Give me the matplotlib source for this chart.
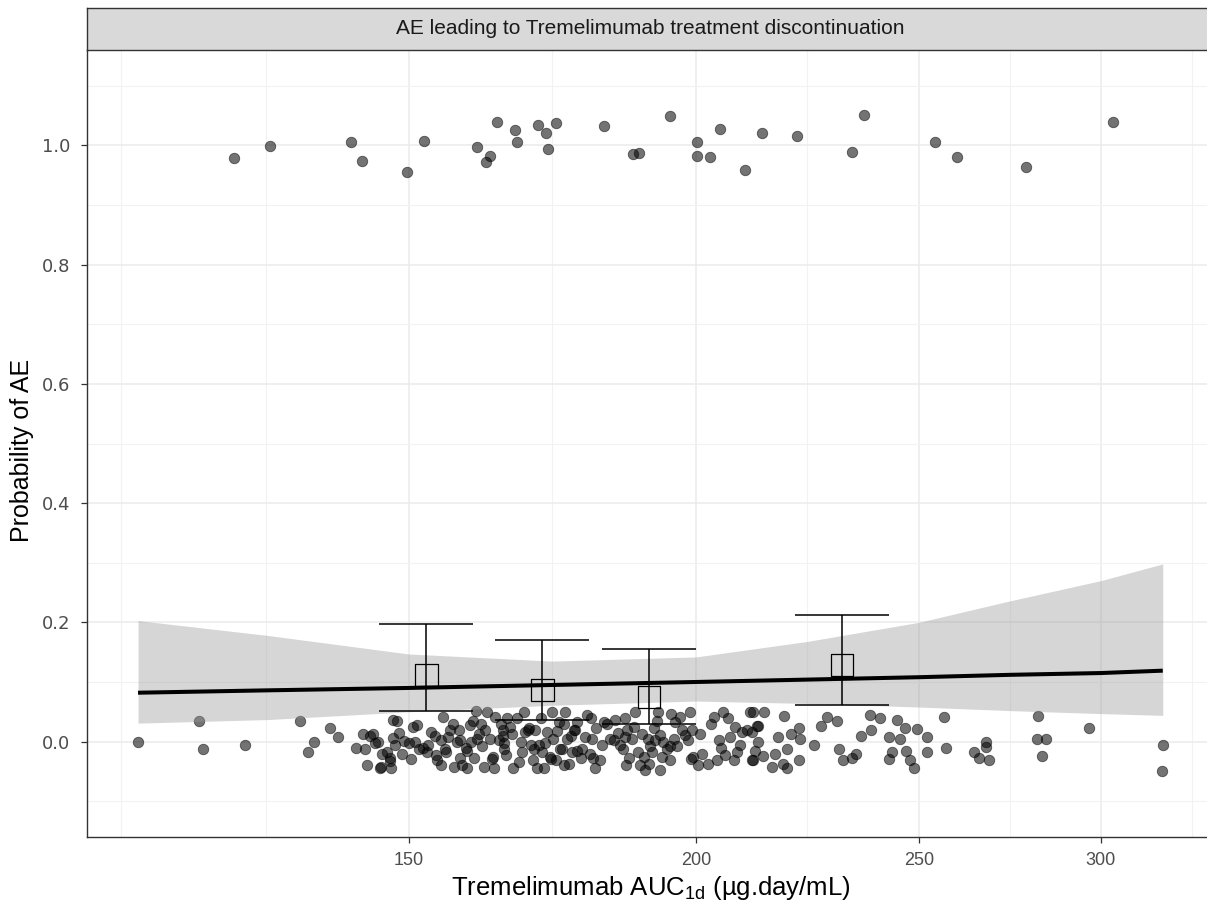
import matplotlib
matplotlib.use("Agg")
import matplotlib.pyplot as plt
from matplotlib.ticker import NullFormatter

plt.rcParams['font.family'] = ['Liberation Sans', 'DejaVu Sans']

# ---- observed data: AUC (ug.day/mL) and jittered response -------------
# patients with the adverse event (response = 1, jittered)
event_auc = [125.9, 130.6, 141.6, 143.1, 149.8, 152.3, 160.6, 162.8, 162.1, 163.9,
             166.9, 167.2, 170.7, 172.2, 173.8, 172.5, 182.4, 187.8, 189.0, 194.9,
             200.3, 200.2, 202.9, 204.9, 210.0, 213.6, 221.3, 233.9, 236.7, 254.0,
             259.7, 278.3, 303.6]
event_y = [0.979, 0.999, 1.006, 0.974, 0.956, 1.008, 0.998, 0.982, 0.972, 1.039,
           1.026, 1.006, 1.034, 1.020, 1.037, 0.994, 1.032, 0.986, 0.987, 1.049,
           1.005, 0.983, 0.980, 1.027, 0.958, 1.021, 1.015, 0.989, 1.051, 1.006,
           0.980, 0.963, 1.040]

# patients without the adverse event (response = 0, jittered)
none_auc = [
    114.4, 121.6, 122.1, 127.3, 134.5, 136.4, 135.6, 138.7, 139.8, 143.3,
    144.3, 142.3, 143.6, 145.1, 143.9, 145.8,
    144.8, 145.4, 145.9, 147.4, 147.2, 147.7, 148.2, 147.7, 147.9, 146.8,
    149.3, 150.0, 150.7, 151.6, 152.2, 152.8, 153.4, 154.4, 154.1, 155.3,
    154.9, 155.5, 155.8, 156.4, 157.4, 156.9, 157.7, 158.0, 158.3, 159.1,
    159.5, 159.6, 160.1, 160.4, 160.7, 161.2, 161.7, 162.3, 162.7, 163.4,
    163.6, 164.2, 164.9, 165.0, 165.3, 165.6, 166.6, 167.2, 167.8, 168.1,
    168.3, 168.6, 169.5, 169.9, 170.3, 170.6, 171.5, 171.7, 172.3, 173.2,
    173.4, 173.8, 174.3, 174.6, 175.2, 175.5, 175.8,
    164.9, 165.0, 147.3, 149.0, 151.0, 156.0, 158.8, 161.0, 163.0, 166.0,
    169.0, 171.0, 172.8,
    175.2, 174.9, 176.1, 176.7, 177.0, 177.6, 178.2, 178.9, 179.3, 180.1,
    180.2, 180.5, 180.8, 181.6, 182.4, 183.6, 184.2, 184.5, 185.4, 186.0,
    186.3, 186.7, 187.0, 187.6, 188.2, 188.7, 189.2, 190.1, 190.6, 190.9,
    191.4, 191.7, 192.5, 192.9, 193.0, 193.6, 194.3, 194.8, 195.1, 195.6,
    195.9, 196.9, 197.9, 198.5, 198.9, 199.2, 199.5, 200.9, 201.2, 202.5,
    203.6, 204.3, 204.6, 205.6, 206.0, 207.0, 207.7, 208.0, 208.4, 209.4,
    210.5, 211.2, 211.5, 212.2, 212.6,
    177.2, 177.5, 186.2, 189.9, 192.0, 194.8, 199.0,
    211.7, 214.1, 211.5, 212.9, 212.9, 211.8, 213.9, 215.8, 217.2, 218.3,
    218.5, 219.1, 219.1, 221.8, 222.0, 221.8, 226.6, 228.0, 230.4, 230.9,
    231.7, 233.8, 234.8, 238.1, 238.3, 240.5, 242.7, 242.7, 244.7, 245.3,
    246.6, 246.8, 247.8, 248.8, 249.5, 252.0, 252.0, 256.4, 256.8, 264.2,
    265.6, 267.4, 267.4, 268.3, 281.7, 281.3, 283.9, 282.7, 296.5, 319.2,
    319.0,
    146.0, 148.5, 150.3, 151.2, 153.0, 154.0, 155.0, 156.8, 157.9, 159.0,
    160.0, 161.5, 162.0, 163.3, 164.5, 166.3, 167.5, 169.2, 170.0, 171.2,
    172.0, 173.0, 174.0, 176.4, 178.5, 179.8, 181.0, 182.0, 183.0, 185.0,
    186.5, 188.0, 189.5, 191.0, 192.3, 193.3, 196.3, 197.3, 200.5, 203.0,
    205.0, 206.5, 209.0, 216.5, 220.0, 225.0, 236.0, 243.5]
none_y = [
    0.000, 0.035, -0.013, -0.006, 0.034, 0.000, -0.018, 0.023, 0.008, 0.013,
    0.010, -0.010, -0.012, -0.002, -0.039, -0.044,
    0.012, -0.001, -0.042, -0.045, -0.027, 0.037, 0.034, 0.006, -0.006, -0.017,
    0.001, -0.003, 0.025, -0.012, -0.010, -0.017, 0.016, -0.031, -0.022, 0.041,
    0.002, -0.012, -0.017, 0.019, -0.001, -0.042, 0.019, -0.028, -0.040, -0.045,
    0.028, -0.001, -0.027, 0.052, 0.005, 0.030, -0.042, 0.050, 0.005, -0.044,
    0.041, 0.002, 0.019, -0.012, -0.023, 0.039, -0.044, 0.039, -0.001, -0.017,
    0.050, 0.016, -0.006, -0.031, 0.019, -0.045, -0.017, -0.045, 0.016, 0.050,
    0.005, -0.031, 0.033, -0.012, -0.040, 0.050, 0.005,
    0.010, -0.003, -0.032, -0.020, 0.000, 0.008, -0.010, 0.012, -0.030, 0.024,
    0.020, -0.005, -0.025,
    0.030, -0.012, -0.037, -0.017, 0.019, 0.033, -0.028, 0.008, 0.044, 0.039,
    0.005, -0.028, -0.045, -0.031, 0.033, 0.005, 0.002, 0.036, -0.006, -0.012,
    0.039, 0.019, -0.028, 0.005, 0.050, -0.017, -0.040, -0.048, 0.005, -0.037,
    -0.017, 0.022, 0.050, -0.047, 0.011, -0.001, -0.012, -0.031, 0.047, 0.005,
    0.033, 0.041, 0.011, 0.002, 0.050, 0.019, -0.026, 0.013, -0.020, -0.037,
    0.041, -0.031, 0.002, 0.050, -0.023, 0.008, -0.031, 0.025, -0.017, 0.016,
    0.019, 0.050, -0.031, -0.015, 0.027,
    0.020, -0.015, 0.008, -0.025, 0.002, -0.008, -0.030,
    0.049, 0.050, 0.016, 0.027, -0.001, -0.031, -0.024, -0.042, 0.008, -0.037,
    0.043, -0.012, -0.044, 0.022, 0.004, -0.031, 0.026, 0.041, 0.034, -0.012,
    -0.031, -0.028, -0.020, 0.044, 0.019, 0.040, 0.008, -0.030, 0.037, 0.005,
    0.022, -0.015, -0.031, -0.044, 0.021, 0.008, -0.017, 0.041, -0.010, -0.018,
    -0.028, -0.001, -0.009, -0.031, 0.043, 0.005, 0.004, -0.024, 0.023, -0.005,
    -0.050,
    -0.020, 0.015, -0.030, 0.028, -0.005, 0.010, -0.040, 0.030, 0.002, -0.015,
    0.035, -0.008, 0.020, -0.025, 0.030, 0.012, -0.035, 0.022, -0.012, 0.040,
    -0.002, -0.030, 0.018, 0.010, -0.012, -0.020, 0.022, -0.005, 0.030, 0.015,
    -0.040, 0.025, 0.012, -0.008, 0.035, -0.025, -0.008, 0.020, -0.040, 0.030,
    -0.010, 0.040, -0.005, -0.020, 0.012, -0.005, 0.010, -0.018]

# ---- logistic regression fit with 95% confidence band -----------------
fit_auc = [114.4, 130.3, 150.0, 173.2, 200.0, 223.6, 250.0, 273.9, 300.0, 319.2]
fit_p = [0.082, 0.086, 0.090, 0.095, 0.100, 0.104, 0.108, 0.112, 0.115, 0.119]
fit_lo = [0.031, 0.037, 0.050, 0.061, 0.068, 0.064, 0.058, 0.052, 0.047, 0.044]
fit_hi = [0.203, 0.178, 0.147, 0.135, 0.142, 0.168, 0.200, 0.236, 0.270, 0.298]

# ---- observed proportion by exposure quartile with 95% CI -------------
bin_auc = [152.7, 171.5, 190.8, 231.5]
bin_p = [0.112, 0.087, 0.075, 0.128]
bin_lo = [0.052, 0.037, 0.029, 0.061]
bin_hi = [0.198, 0.171, 0.155, 0.213]

x_major = [150, 200, 250, 300]
x_minor = [112.5, 130.0, 173.2, 223.6, 273.9, 328.6]
y_major = [0.0, 0.2, 0.4, 0.6, 0.8, 1.0]
y_minor = [-0.1, 0.1, 0.3, 0.5, 0.7, 0.9, 1.1]

W, H = 1207, 907
fig = plt.figure(figsize=(W / 100, H / 100), dpi=100)
ax = fig.add_axes([87 / W, (H - 837) / H, (1214 - 87) / W, (837 - 50) / H])

ax.set_xscale('log')
ax.set_xlim(108.7, 336.0)
ax.set_ylim(-0.16, 1.16)

ax.set_xticks(x_major)
ax.set_xticklabels([str(v) for v in x_major])
ax.set_xticks(x_minor, minor=True)
ax.xaxis.set_minor_formatter(NullFormatter())
ax.set_yticks(y_major)
ax.set_yticklabels([f"{v:.1f}" for v in y_major])
ax.set_yticks(y_minor, minor=True)

ax.grid(which='major', color='#ebebeb', linewidth=1.1, zorder=0)
ax.grid(which='minor', color='#f2f2f2', linewidth=0.8, zorder=0)
ax.set_axisbelow(True)

ax.tick_params(which='minor', length=0)
ax.tick_params(axis='x', which='major', length=4, width=0.9, color='#333333',
               labelcolor='#4d4d4d', labelsize=13, pad=7)
ax.tick_params(axis='y', which='major', length=4, width=0.9, color='#333333',
               labelcolor='#4d4d4d', labelsize=13, pad=8)
for lab in ax.get_yticklabels():
    lab.set_family(['DejaVu Sans'])

for side in ('top', 'right'):
    ax.spines[side].set_visible(False)
for side in ('left', 'bottom'):
    ax.spines[side].set_color('#333333')
    ax.spines[side].set_linewidth(1.0)

# raw data points
ax.scatter(none_auc, none_y, s=57, color='black', alpha=0.55,
           linewidths=0.6, edgecolors='black', zorder=2)
ax.scatter(event_auc, event_y, s=57, color='black', alpha=0.55,
           linewidths=0.6, edgecolors='black', zorder=2)

# fitted curve and confidence band
ax.fill_between(fit_auc, fit_lo, fit_hi, color='#999999', alpha=0.4,
                linewidth=0, zorder=3)
ax.plot(fit_auc, fit_p, color='black', linewidth=2.9, zorder=4,
        solid_capstyle='butt')

# quartile proportions
bin_err = [[p - lo for p, lo in zip(bin_p, bin_lo)],
           [hi - p for p, hi in zip(bin_p, bin_hi)]]
ax.errorbar(bin_auc, bin_p, yerr=bin_err, fmt='none', ecolor='black',
            elinewidth=1.1, capsize=33.6, capthick=1.1, zorder=5)
ax.scatter(bin_auc, bin_p, marker='s', s=260, facecolors='none',
           edgecolors='black', linewidths=0.9, zorder=6)

# axis titles
fig.text(650.5 / W, 1 - 895 / H,
         'Tremelimumab AUC$_{\\mathregular{1d}}$ (\u00b5g.day/mL)',
         ha='center', va='baseline', fontsize=18.5, color='black')
fig.text(22 / W, 1 - 450 / H, 'Probability of AE', rotation=90,
         ha='center', va='center', fontsize=18, color='black')

# facet strip
strip = fig.add_axes([87 / W, (H - 50) / H, (1214 - 87) / W, 42 / H])
strip.set_facecolor('#d9d9d9')
strip.set_xticks([])
strip.set_yticks([])
for s in strip.spines.values():
    s.set_color('#333333')
    s.set_linewidth(1.0)
strip.text(0.5, 0.5, 'AE leading to Tremelimumab treatment discontinuation',
           ha='center', va='center', fontsize=15, color='#1a1a1a',
           transform=strip.transAxes)

fig.savefig('out.png', dpi=100)
